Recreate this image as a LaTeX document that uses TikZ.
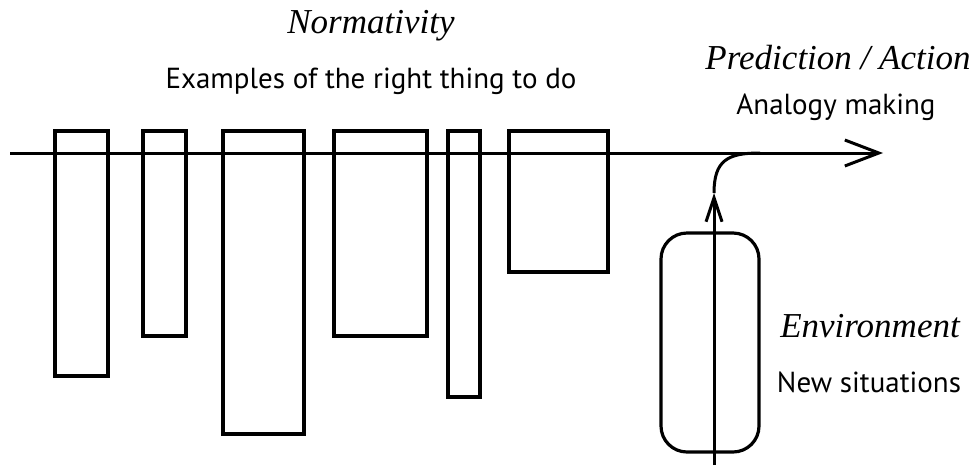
\documentclass[tikz,border=0pt]{standalone}
\usepackage{fontspec}
\setmainfont{Liberation Serif}
\newfontfamily\labelsans{PT Sans}
\usetikzlibrary{arrows.meta}
\begin{document}
\begin{tikzpicture}[x=1pt,y=-1pt,
  bar/.style={draw=black, line width=3.2pt, anchor=north west, inner sep=0pt, outer sep=0pt},
  envbox/.style={draw=black, line width=3.2pt, rounded corners=26pt, inner sep=0pt, outer sep=0pt, anchor=north west},
  line/.style={line width=3pt},
  titletxt/.style={font=\fontsize{35}{38}\selectfont\itshape, inner sep=0pt},
  subtxt/.style={font=\labelsans\fontsize{29}{32}\selectfont, inner sep=0pt},
  bigarrow/.style={-{Straight Barb[length=34pt,width=26pt,line width=3pt]}},
  smallarrow/.style={-{Straight Barb[length=24pt,width=16pt,line width=3pt]}}
]
\useasboundingbox (0,0) rectangle (976,472);
% bars
\node[bar, minimum width=53pt, minimum height=245pt] (r1) at (55,131) {};
\node[bar, minimum width=43pt, minimum height=205pt] (r2) at (143,131) {};
\node[bar, minimum width=81pt, minimum height=303pt] (r3) at (223,131) {};
\node[bar, minimum width=93pt, minimum height=205pt] (r4) at (334,131) {};
\node[bar, minimum width=32pt, minimum height=266pt] (r5) at (448,131) {};
\node[bar, minimum width=99pt, minimum height=141pt] (r6) at (509,131) {};
% environment box
\node[envbox, minimum width=98pt, minimum height=219pt] (env) at (661,233) {};
% main line
\coordinate (start) at (10,153);
\coordinate (tip) at (883,153);
\draw[line, bigarrow] (start) -- (tip);
% incoming line
\coordinate (low) at (714,465);
\coordinate (mid) at (714,193);
\coordinate (join) at (760,153);
\draw[line, smallarrow] (low) -- (mid);
\draw[line] (mid) .. controls (714,160) and (728,153) .. (join);
% texts
\node[titletxt] (norm) at (371,26) {Normativity};
\node[subtxt] (ex) at (371,81) {Examples of the right thing to do};
\node[titletxt] (pred) at (838,58) {Prediction / Action};
\node[subtxt] (anal) at (836,107) {Analogy making};
\node[titletxt] (envt) at (870,326) {Environment};
\node[subtxt] (newsit) at (869,382) {New situations};
\end{tikzpicture}
\end{document}
